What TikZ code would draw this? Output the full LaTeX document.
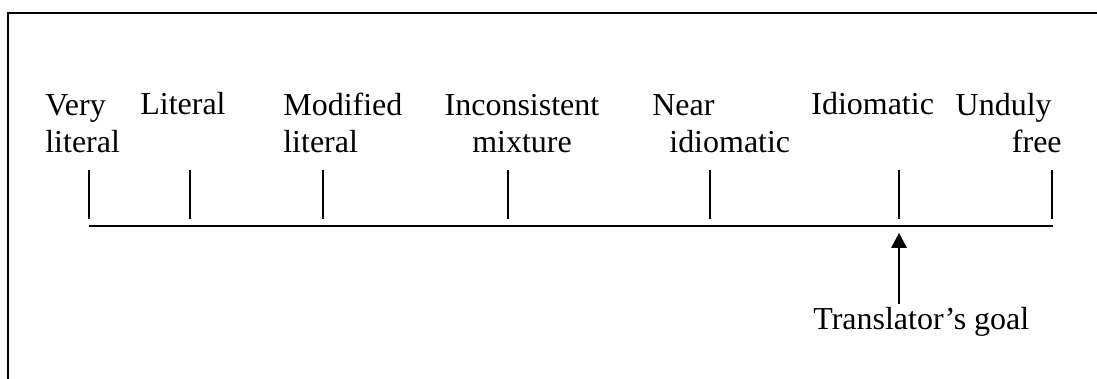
\documentclass[tikz,border=0pt]{standalone}
\usepackage{fontspec}
\setmainfont{Liberation Serif}
\usepackage{tikz}

\begin{document}
\begin{tikzpicture}[scale=0.2]
  \tikzstyle{every node}+=[inner sep=0pt, font=\fontsize{18.2pt}{21.6pt}\selectfont]
  \useasboundingbox (0,0) rectangle (109.7,-37.9);
  \draw [black, line width=0.8pt] (109.7,-1.3) -- (0.8,-1.3) -- (0.8,-37.9);
  \draw (4.5,-15.3) node [anchor=base west, align=left] (verylit) {Very\\literal};
  \draw (14.0,-11.5) node [anchor=base west] (lit) {Literal};
  \draw (28.3,-15.3) node [anchor=base west, align=left] (modlit) {Modified\\literal};
  \draw (52.2,-15.3) node [anchor=base, align=center] (mix) {Inconsistent\\mixture};
  \draw (65.2,-15.3) node [anchor=base west, align=left] (nearid) {Near\\\hspace*{0.34cm}idiomatic};
  \draw (81.1,-11.5) node [anchor=base west] (idiom) {Idiomatic};
  \draw (106.2,-15.3) node [anchor=base east, align=right] (free) {Unduly\hspace*{0.2cm}\\free};
  \draw [black, line width=0.6pt] (8.9,-17.0) -- (8.9,-21.9);
  \draw [black, line width=0.6pt] (19.0,-17.0) -- (19.0,-21.9);
  \draw [black, line width=0.6pt] (32.3,-17.0) -- (32.3,-21.9);
  \draw [black, line width=0.6pt] (50.8,-17.0) -- (50.8,-21.9);
  \draw [black, line width=0.6pt] (71.0,-17.0) -- (71.0,-21.9);
  \draw [black, line width=0.6pt] (89.9,-17.0) -- (89.9,-21.9);
  \draw [black, line width=0.6pt] (105.2,-17.0) -- (105.2,-21.9);
  \draw [black, line width=0.8pt] (8.9,-22.6) -- (105.3,-22.6);
  \coordinate (goaltip) at (89.9,-23.3);
  \coordinate (goalfoot) at (89.9,-30.4);
  \draw [black, line width=0.6pt] (goalfoot) -- ([yshift=-0.2cm]goaltip);
  \fill [black] (goaltip) -- ++(-0.8,-1.5) -- ++(1.6,0) -- cycle;
  \draw (81.3,-33.0) node [anchor=base west] (goal) {Translator’s goal};
\end{tikzpicture}
\end{document}
